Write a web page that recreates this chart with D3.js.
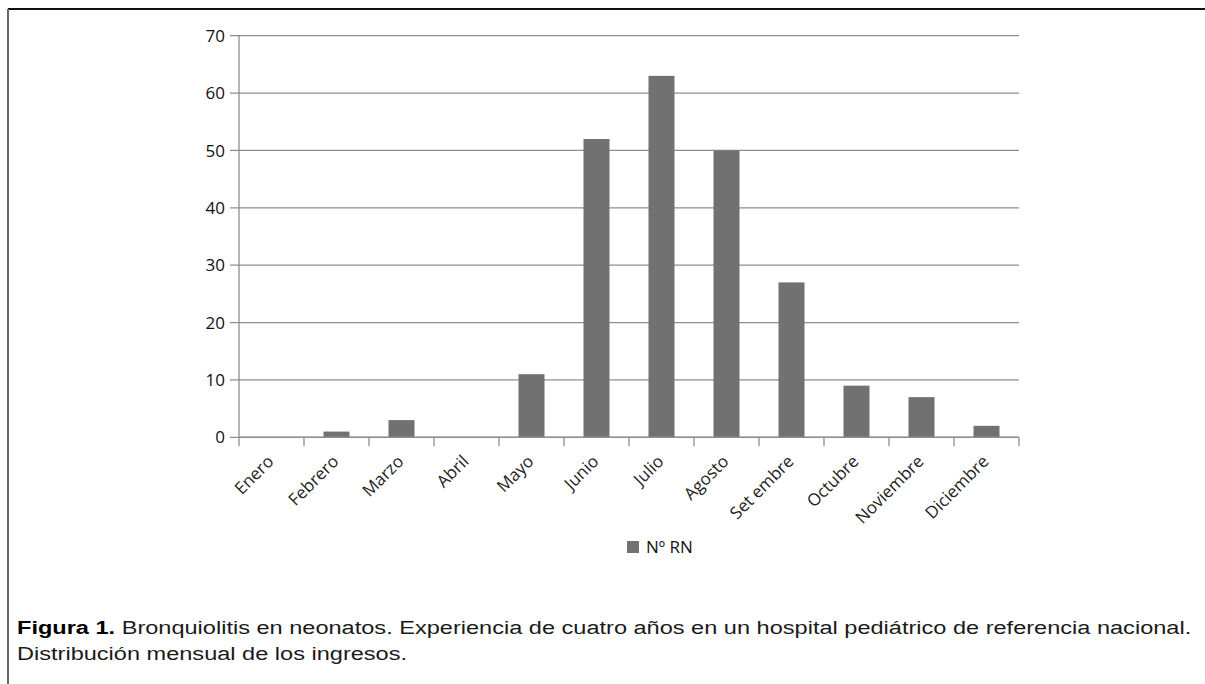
<!DOCTYPE html>
<html>
<head>
<meta charset="utf-8">
<script src="https://cdn.jsdelivr.net/npm/d3@7"></script>
<style>
  html, body { margin: 0; padding: 0; background: #fff; }
  svg { display: block; }
</style>
</head>
<body>
<svg id="chart" width="1205" height="684"></svg>
<script>
// Monthly admissions of neonates with bronchiolitis
const months = ["Enero", "Febrero", "Marzo", "Abril", "Mayo", "Junio",
                "Julio", "Agosto", "Set embre", "Octubre", "Noviembre", "Diciembre"];
const admissions = [0, 1, 3, 0, 11, 52, 63, 50, 27, 9, 7, 2];
const yTicks = [0, 10, 20, 30, 40, 50, 60, 70];
const seriesName = "Nº RN";
const captionBold = "Figura 1.";
const captionLine1 = " Bronquiolitis en neonatos. Experiencia de cuatro años en un hospital pediátrico de referencia nacional.";
const captionLine2 = "Distribución mensual de los ingresos.";

const svg = d3.select("#chart");
const axisFont = "'Open Sans', 'DejaVu Sans', sans-serif";
const gridColor = "#8e8e8e";
const barColor = "#717171";

// frame
svg.append("line").attr("x1", 8).attr("x2", 1205).attr("y1", 9).attr("y2", 9)
  .attr("stroke", "#111").attr("stroke-width", 2);
svg.append("line").attr("x1", 8).attr("x2", 8).attr("y1", 9).attr("y2", 684)
  .attr("stroke", "#666").attr("stroke-width", 2);

const plot = { left: 239, right: 1019, top: 35.7, bottom: 437.3 };

const x = d3.scaleBand().domain(months).range([plot.left, plot.right]).paddingInner(0.6).paddingOuter(0.3);
const xb = d3.scaleBand().domain(months).range([plot.left, plot.right]).padding(0);
const y = d3.scaleLinear().domain([0, 70]).range([plot.bottom, plot.top]);

// horizontal gridlines with small left ticks
svg.append("g").selectAll("line").data(yTicks).join("line")
  .attr("x1", plot.left - 9).attr("x2", plot.right)
  .attr("y1", d => y(d)).attr("y2", d => y(d))
  .attr("stroke", gridColor).attr("stroke-width", 1.3);

// y axis line
svg.append("line").attr("x1", plot.left).attr("x2", plot.left)
  .attr("y1", plot.top).attr("y2", plot.bottom)
  .attr("stroke", gridColor).attr("stroke-width", 1.3);

// y tick labels
svg.append("g").selectAll("text").data(yTicks).join("text")
  .attr("x", plot.left - 14).attr("y", d => y(d)).attr("dy", "0.36em")
  .attr("text-anchor", "end").attr("font-family", axisFont).attr("font-size", 17)
  .attr("fill", "#111").text(d => d);

// bars
svg.append("g").selectAll("rect").data(months).join("rect")
  .attr("x", d => x(d)).attr("width", x.bandwidth())
  .attr("y", (d, i) => y(admissions[i]))
  .attr("height", (d, i) => y(0) - y(admissions[i]))
  .attr("fill", barColor);

// x axis with ticks at category boundaries
svg.append("line").attr("x1", plot.left).attr("x2", plot.right)
  .attr("y1", plot.bottom).attr("y2", plot.bottom)
  .attr("stroke", gridColor).attr("stroke-width", 1.5);
const boundaries = months.map(m => xb(m)).concat([plot.right]);
svg.append("g").selectAll("line").data(boundaries).join("line")
  .attr("x1", d => d).attr("x2", d => d)
  .attr("y1", plot.bottom).attr("y2", plot.bottom + 9)
  .attr("stroke", gridColor).attr("stroke-width", 1.3);

// rotated month labels
svg.append("g").selectAll("text").data(months).join("text")
  .attr("transform", d => `translate(${xb(d) + xb.bandwidth() / 2 - 1},${plot.bottom + 21}) rotate(-45)`)
  .attr("text-anchor", "end").attr("dy", "0.35em")
  .attr("font-family", axisFont).attr("font-size", 17).attr("fill", "#222")
  .text(d => d);

// legend
const legend = svg.append("g").attr("transform", "translate(627,541)");
legend.append("rect").attr("width", 12).attr("height", 12).attr("fill", barColor);
legend.append("text").attr("x", 19).attr("y", 12)
  .attr("font-family", axisFont).attr("font-size", 17).attr("fill", "#111")
  .text(seriesName);

// caption (set slightly wide)
const capFont = "'Liberation Sans', Arial, Helvetica, sans-serif";
const capStretch = 1.24;
const cap1 = svg.append("text")
  .attr("transform", `translate(17,634) scale(${capStretch},1)`)
  .attr("font-family", capFont).attr("font-size", 19).attr("fill", "#1a1a1a");
cap1.append("tspan").attr("font-weight", "bold").attr("fill", "#000").text(captionBold);
cap1.append("tspan").text(captionLine1);
svg.append("text")
  .attr("transform", `translate(17,660) scale(${capStretch},1)`)
  .attr("font-family", capFont).attr("font-size", 19).attr("fill", "#1a1a1a")
  .text(captionLine2);
</script>
</body>
</html>
